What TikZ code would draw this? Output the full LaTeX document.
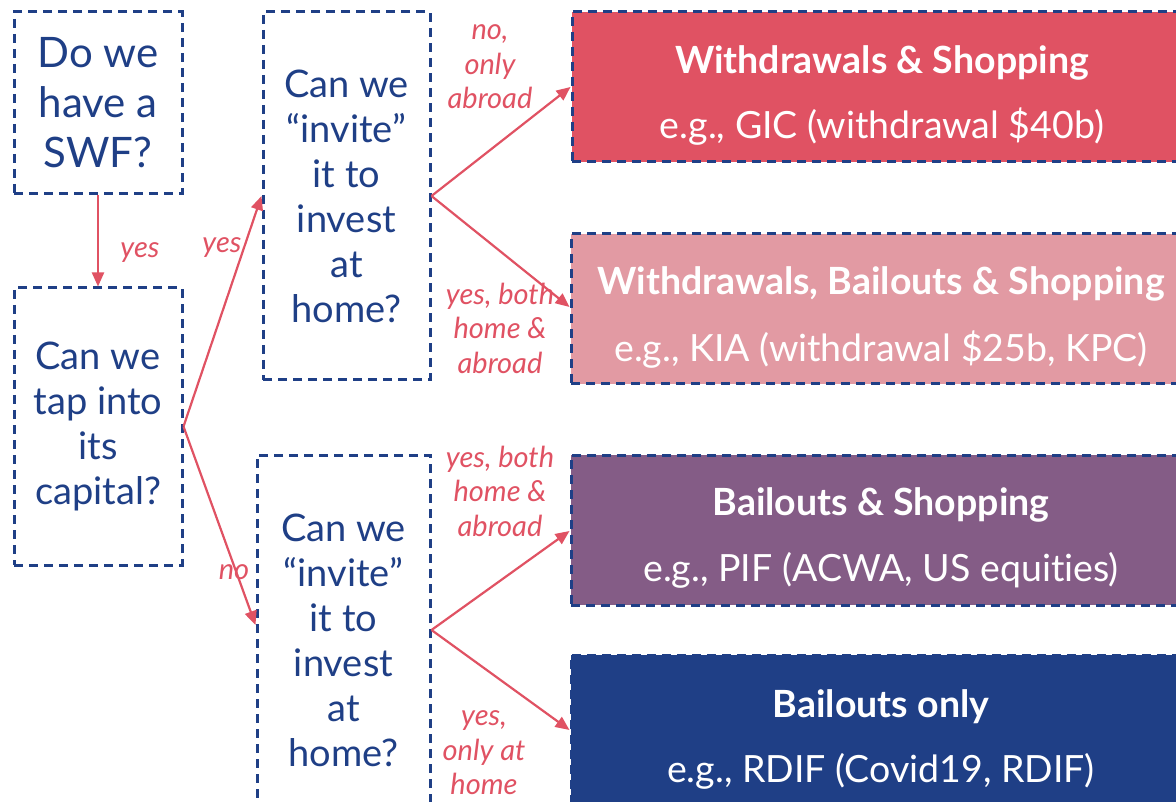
\documentclass[tikz,border=0pt]{standalone}
\usepackage{fontspec}
\setmainfont{Lato}[Ligatures=NoCommon]
\usetikzlibrary{arrows.meta}
\definecolor{navy}{RGB}{31,63,134}
\definecolor{redc}{RGB}{224,82,99}
\definecolor{pinkc}{RGB}{226,154,163}
\definecolor{purc}{RGB}{132,92,134}
\begin{document}
\begin{tikzpicture}[x=1pt,y=-1pt,
  qbox/.style={draw=navy,line width=3pt,dash pattern=on 9pt off 6pt,text=navy,align=center,inner sep=0pt},
  rbox/.style={draw=navy,line width=3pt,dash pattern=on 9pt off 6pt,inner sep=0pt,minimum width=620pt,minimum height=150pt},
  ttl/.style={text=white,font=\fontsize{37.5}{44}\selectfont\bfseries,inner sep=0pt},
  sub/.style={text=white,font=\fontsize{37.5}{44}\selectfont,inner sep=0pt},
  arr/.style={draw=redc,line width=2.2pt,-{Triangle[length=14pt,width=12pt]}},
  lab/.style={text=redc,font=\fontsize{29}{34.5}\selectfont\itshape,align=center,inner sep=0pt}
]
\useasboundingbox (0,0) rectangle (1176,802);
\clip (0,0) rectangle (1176,802);
\node[qbox,minimum width=168pt,minimum height=182pt,font=\fontsize{42}{50}\selectfont] (A) at (98,103) {Do we\\have a\\SWF?};
\node[qbox,minimum width=168pt,minimum height=277pt,font=\fontsize{38}{45}\selectfont] (B) at (98,426.5) {Can we\\tap into\\its\\capital?};
\node[qbox,minimum width=167pt,minimum height=368pt,font=\fontsize{38}{45}\selectfont] (C) at (346.5,196) {Can we\\“invite”\\it to\\invest\\at\\home?};
\node[qbox,minimum width=173pt,minimum height=370pt,font=\fontsize{38}{45}\selectfont] (D) at (343.5,640) {Can we\\“invite”\\it to\\invest\\at\\home?};
\node[rbox,fill=redc] (R1) at (882,87) {};
\node[rbox,fill=pinkc] (R2) at (881,309) {};
\node[rbox,fill=purc] (R3) at (881,530) {};
\node[rbox,fill=navy] (R4) at (881,730) {};
\node[ttl] (t1) at ([yshift=24pt]R1.center) {Withdrawals \& Shopping};
\node[sub] (s1) at ([yshift=-40pt]R1.center) {e.g., GIC (withdrawal \$40b)};
\node[ttl] (t2) at ([yshift=25pt]R2.center) {Withdrawals, Bailouts \& Shopping};
\node[sub] (s2) at ([yshift=-41pt]R2.center) {e.g., KIA (withdrawal \$25b, KPC)};
\node[ttl] (t3) at ([yshift=25pt]R3.center) {Bailouts \& Shopping};
\node[sub] (s3) at ([yshift=-40pt]R3.center) {e.g., PIF (ACWA, US equities)};
\node[ttl] (t4) at ([yshift=23pt]R4.center) {Bailouts only};
\node[sub] (s4) at ([yshift=-41pt]R4.center) {e.g., RDIF (Covid19, RDIF)};
\draw[arr] (A.south) -- (B.north);
\draw[arr] (B.east) -- (C.west);
\draw[arr] (B.east) -- ([yshift=15pt]D.west);
\draw[arr] (C.east) -- (R1.west);
\draw[arr] (C.east) -- ([yshift=2pt]R2.west);
\draw[arr] ([yshift=10pt]D.east) -- ([yshift=-1pt]R3.west);
\draw[arr] ([yshift=10pt]D.east) -- (R4.west);
\node[lab] (l1) at (140,253) {yes};
\node[lab] (l2) at (222,248) {yes};
\node[lab] (l3) at (234,572) {no};
\node[lab] (l4) at (490,67) {no,\\only\\abroad};
\node[lab] (l5) at (500,328) {yes, both\\home \&\\abroad};
\node[lab] (l6) at (500,491) {yes, both\\home \&\\abroad};
\node[lab] (l7) at (484,753) {yes,\\only at\\home};
\end{tikzpicture}
\end{document}
